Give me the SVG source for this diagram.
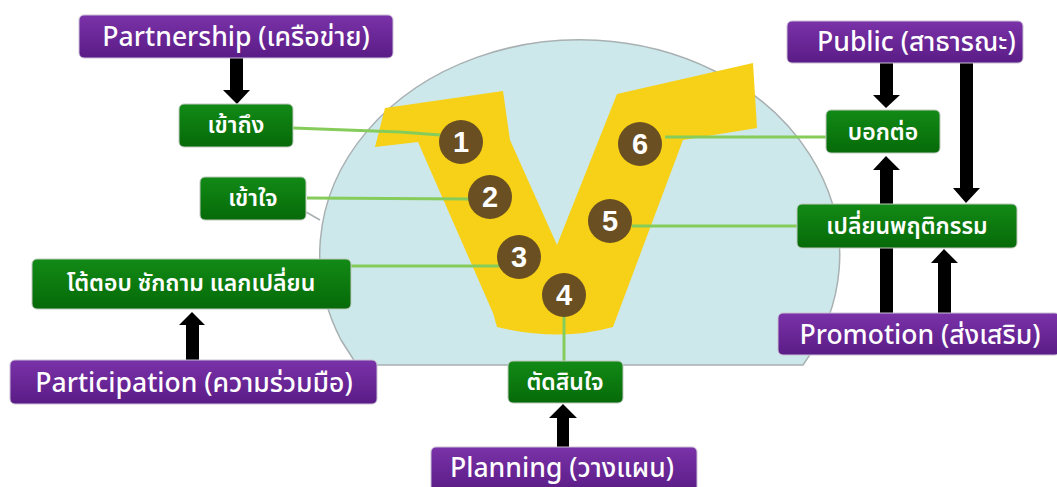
<svg xmlns="http://www.w3.org/2000/svg" width="1057" height="487" viewBox="0 0 1057 487">
<defs>
<linearGradient id="gp" x1="0" y1="0" x2="0" y2="1"><stop offset="0" stop-color="#7a32a8"/><stop offset="1" stop-color="#5a1c86"/></linearGradient>
<linearGradient id="gg" x1="0" y1="0" x2="0" y2="1"><stop offset="0" stop-color="#128a16"/><stop offset="1" stop-color="#066a08"/></linearGradient>
<style>
.p{fill:url(#gp);stroke:#c9c0d4;stroke-width:1}
.g{fill:url(#gg);stroke:#bfc9bf;stroke-width:1}
.t{font-family:"Noto Sans Thai","Noto Sans",sans-serif;fill:#fff;text-anchor:middle;font-weight:500}
.pt{font-size:26.5px}
.gt{font-size:23px;font-weight:600}
.n{font-family:"Liberation Sans",sans-serif;font-size:29px;font-weight:bold;fill:#fff;text-anchor:middle}
.c{fill:#6a4f22}
.l{stroke:#86cc5a;stroke-width:3;fill:none}
.a{fill:#000}
</style>
</defs>
<g id="dome">
<path d="M357,365 L341,340 A260,215 0 1 1 803,365 Z" fill="#cde8ea" stroke="#a8b0b2" stroke-width="1.5"/>
<path d="M385,108 L503,91 L510,140 L557,245 L617,94 L753,63 L757,128 L683,140 L613,327 Q560,342 497,327 L493,313 L418,142 L375,147 Z" fill="#f7d117"/>
</g>
<g id="connectors">
<path class="l" d="M293,128 L400,132 L440,135"/>
<path class="l" d="M307,198 L470,199"/>
<path class="l" d="M350,266 L500,266"/>
<path class="l" d="M564,315 L564,362"/>
<path class="l" d="M632,226 L797,226"/>
<path class="l" d="M665,137 L826,137"/>
<path d="M306,212 L320,220" stroke="#a8b0b2" stroke-width="1.5" fill="none"/>
<polygon class="a" points="230,58 243,58 243,90 250,90 237,104 223,90 230,90"/>
<polygon class="a" points="186,360 199,360 199,325 205,325 192,312 179,325 186,325"/>
<polygon class="a" points="557,447 569,447 569,418 577,418 563,404 549,418 557,418"/>
<polygon class="a" points="880,63 893,63 893,95 900,95 886,108 873,95 880,95"/>
<polygon class="a" points="960,63 973,63 973,188 980,188 966,203 953,188 960,188"/>
<polygon class="a" points="880,313 893,313 893,170 900,170 886,156 873,170 880,170"/>
<polygon class="a" points="938,313 951,313 951,263 958,263 944,249 931,263 938,263"/>
</g>
<g id="circles">
<circle class="c" cx="461" cy="142" r="22"/><text class="n" x="461" y="152">1</text>
<circle class="c" cx="490" cy="197" r="22"/><text class="n" x="490" y="207">2</text>
<circle class="c" cx="519" cy="257" r="22"/><text class="n" x="519" y="267">3</text>
<circle class="c" cx="564" cy="295" r="22"/><text class="n" x="564" y="305">4</text>
<circle class="c" cx="610" cy="221" r="22"/><text class="n" x="610" y="231">5</text>
<circle class="c" cx="640" cy="144" r="22"/><text class="n" x="640" y="154">6</text>
</g>
<g id="partnership"><rect class="p" x="79" y="15" width="314" height="43" rx="5"/><text class="t pt" x="236" y="46">Partnership (เครือข่าย)</text></g>
<g id="access"><rect class="g" x="179" y="104" width="114" height="43" rx="5"/><text class="t gt" x="236" y="133">เข้าถึง</text></g>
<g id="understand"><rect class="g" x="200" y="177" width="106" height="43" rx="5"/><text class="t gt" x="253" y="206">เข้าใจ</text></g>
<g id="interact"><rect class="g" x="32" y="259" width="319" height="50" rx="5"/><text class="t gt" x="191" y="291">โต้ตอบ ซักถาม แลกเปลี่ยน</text></g>
<g id="participation"><rect class="p" x="10" y="360" width="367" height="44" rx="5"/><text class="t pt" x="194" y="392">Participation (ความร่วมมือ)</text></g>
<g id="decide"><rect class="g" x="508" y="361" width="115" height="42" rx="5"/><text class="t gt" x="565" y="390">ตัดสินใจ</text></g>
<g id="planning"><rect class="p" x="431" y="447" width="266" height="45" rx="5"/><text class="t pt" x="562" y="477">Planning (วางแผน)</text></g>
<g id="public"><rect class="p" x="787" y="21" width="236" height="42" rx="5"/><text class="t pt" x="817" y="51" style="text-anchor:start">Public (สาธารณะ)</text></g>
<g id="tell"><rect class="g" x="826" y="110" width="114" height="43" rx="5"/><text class="t gt" x="883" y="140">บอกต่อ</text></g>
<g id="behavior"><rect class="g" x="797" y="204" width="220" height="44" rx="5"/><text class="t gt" x="907" y="234">เปลี่ยนพฤติกรรม</text></g>
<g id="promotion"><rect class="p" x="778" y="313" width="282" height="42" rx="5"/><text class="t pt" x="920" y="344">Promotion (ส่งเสริม)</text></g>
</svg>
